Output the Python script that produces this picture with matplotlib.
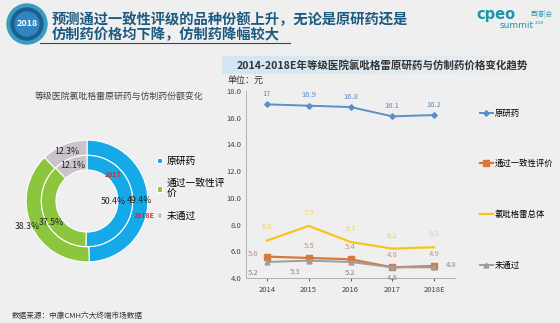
import numpy as np
import matplotlib
matplotlib.use("Agg")
import matplotlib.pyplot as plt
from matplotlib.patches import Circle
from matplotlib.colors import LinearSegmentedColormap

plt.rcParams['font.family'] = ['Noto Sans CJK SC', 'DejaVu Sans']

# donut data: inner ring 2017, outer ring 2018E
share_labels = ["原研药", "通过一致性评\n价", "未通过"]
share_2017 = [50.4, 37.5, 12.1]
share_2018 = [49.4, 38.3, 12.3]
share_colors = ["#16a9e8", "#8cc63e", "#c9c4cc"]

# price trend data
years = ["2014", "2015", "2016", "2017", "2018E"]
price_orig = [17, 16.9, 16.8, 16.1, 16.2]
price_pass = [5.6, 5.5, 5.4, 4.8, 4.9]
price_total = [6.8, 7.9, 6.7, 6.2, 6.3]
price_fail = [5.2, 5.3, 5.2, 4.8, 4.8]

bg = "#efeff0"
fig = plt.figure(figsize=(5.6, 3.23), dpi=100, facecolor=bg)

# right title band with gradient (added first so text sits on top)
grad = np.linspace(1, 0, 256).reshape(1, -1)
band = fig.add_axes([222 / 560, 1 - 74 / 323, 338 / 560, 18 / 323])
band.imshow(grad, aspect="auto", extent=[0, 1, 0, 1],
            cmap=LinearSegmentedColormap.from_list("b", [bg, "#d2e6f4"]))
band.axis("off")

# ---- header / free text ----
hdr = fig.add_axes([0, 0, 1, 1], facecolor="none")
hdr.set_xlim(0, 560)
hdr.set_ylim(323, 0)
hdr.axis("off")
hdr.add_patch(Circle((27, 24), 20, color="#3a9cc0", zorder=1))
hdr.add_patch(Circle((27, 24), 16, color="#1c5f8c", zorder=2))
hdr.add_patch(Circle((27, 24), 12, color="#2f86c2", zorder=3))
hdr.text(27, 24, "2018", color="white", fontsize=6.5, fontweight="bold",
         ha="center", va="center", zorder=4)
hdr.plot([40, 290], [43, 43], color="#444444", lw=0.8)
hdr.text(52, 20, "预测通过一致性评级的品种份额上升，无论是原研药还是",
         fontsize=10.3, fontweight="bold", color="#1d5a80", va="center")
hdr.text(52, 35, "仿制药价格均下降，仿制药降幅较大",
         fontsize=10.3, fontweight="bold", color="#1d5a80", va="center")
hdr.text(476, 15, "cpeo", fontsize=10.5, color="#1a97a8", va="center",
         fontweight="bold", family=["DejaVu Sans"])
hdr.text(531, 14, "西|普|会", fontsize=4.5, color="#1a97a8", va="center")
hdr.text(500, 26, "summit", fontsize=6.5, color="#1a97a8", va="center",
         family=["DejaVu Sans"])
hdr.text(535, 23, "2018", fontsize=3, color="#1a97a8", va="center")

hdr.text(237, 65, "2014-2018E年等级医院氯吡格雷原研药与仿制药价格变化趋势",
         fontsize=7.6, fontweight="bold", color="#333333", va="center")
hdr.text(228, 80, "单位：元", fontsize=6.5, color="#333333", va="center")
hdr.text(119, 96, "等级医院氯吡格雷原研药与仿制药份额变化",
         fontsize=6.4, color="#444444", va="center", ha="center")
hdr.text(12, 316, "数据来源：中康CMH六大终端市场数据", fontsize=5.5,
         color="#333333", va="center")

# ---- donut ----
ax1 = fig.add_axes([20 / 560, 1 - 268 / 323, 134 / 560, 134 / 323])
ax1.set_facecolor("none")
w_out, _ = ax1.pie(share_2018, radius=1.0, colors=share_colors, startangle=90,
                   counterclock=False,
                   wedgeprops=dict(width=0.25, edgecolor="white", linewidth=0.8))
w_in, _ = ax1.pie(share_2017, radius=0.75, colors=share_colors, startangle=90,
                  counterclock=False,
                  wedgeprops=dict(width=0.24, edgecolor="white", linewidth=0.8))
ax1.set_xlim(-1.1, 1.1)
ax1.set_ylim(-1.1, 1.1)
ax1.set_aspect("equal")
ax1.axis("off")

def label_ring(vals, radii, shifts):
    start = 90
    for v, r, d in zip(vals, radii, shifts):
        mid = np.deg2rad(start - v * 3.6 / 2 + d)
        start -= v * 3.6
        ax1.text(r * np.cos(mid), r * np.sin(mid), f"{v}%", fontsize=6.3,
                 color="#222222", ha="center", va="center")

label_ring(share_2018, [0.87, 1.07, 0.87], [0, 0, 0])
label_ring(share_2017, [0.44, 0.68, 0.62], [0, 10, 0])
ax1.text(0.43, 0.44, "2017", fontsize=5, color="#c0392b", fontweight="bold",
         ha="center", va="center")
ax1.text(0.94, -0.23, "2018E", fontsize=5, color="#d03030", fontweight="bold",
         ha="center", va="center")

fig.legend(w_out, share_labels, loc="upper left",
           bbox_to_anchor=(148 / 560, 1 - 147 / 323), frameon=False,
           fontsize=7, handlelength=0.5, handleheight=0.5, handletextpad=0.5,
           labelspacing=1.2)

# ---- price lines ----
ax2 = fig.add_axes([246 / 560, 1 - 278 / 323, 209 / 560, 187 / 323])
ax2.set_facecolor("none")
x = np.arange(len(years))
l1, = ax2.plot(x, price_orig, color="#5b8fc8", lw=1.4, marker="D", ms=2.8,
               label="原研药")
l2, = ax2.plot(x, price_pass, color="#d9773c", lw=1.6, marker="s", ms=4,
               label="通过一致性评价")
l3, = ax2.plot(x, price_total, color="#f7c51a", lw=1.6, label="氯吡格雷总体")
l4, = ax2.plot(x, price_fail, color="#9e9e9e", lw=1.4, marker="^", ms=3.5,
               label="未通过")

for i, v in enumerate(price_orig):
    ax2.annotate(f"{v:g}", (i, v), xytext=(0, 6), textcoords="offset points",
                 ha="center", fontsize=5.5, color="#5b8fc8")
for i, v in enumerate(price_total):
    ax2.annotate(f"{v:g}", (i, v), xytext=(0, 8), textcoords="offset points",
                 ha="center", fontsize=5.5, color="#f0cf70")
for i, v in enumerate(price_pass):
    off = (-10, 2) if i == 0 else (0, 6)
    ax2.annotate(f"{v:g}", (i, v), xytext=off, textcoords="offset points",
                 ha="center", va="center" if i == 0 else "bottom",
                 fontsize=5.5, color="#c89070")
for i, v in enumerate(price_fail):
    off = (12, 2) if i == 4 else (-10 if i < 2 else 0, -8)
    ax2.annotate(f"{v:g}", (i, v), xytext=off, textcoords="offset points",
                 ha="center", va="center", fontsize=5.5, color="#888888")

ax2.set_xlim(-0.5, 4.5)
ax2.set_ylim(4, 18)
ax2.set_yticks(np.arange(4, 18.1, 2))
ax2.set_yticklabels([f"{t:.1f}" for t in np.arange(4, 18.1, 2)])
ax2.set_xticks(x)
ax2.set_xticklabels(years)
ax2.tick_params(labelsize=5.5, colors="#444444", length=2, width=0.6)
ax2.tick_params(axis="y", length=0)
for s in ["top", "right"]:
    ax2.spines[s].set_visible(False)
for s in ["left", "bottom"]:
    ax2.spines[s].set_color("#b0b0b0")
    ax2.spines[s].set_linewidth(0.7)

fig.legend([l1, l2, l3, l4], ["原研药", "通过一致性评价", "氯吡格雷总体", "未通过"],
           loc="upper left", bbox_to_anchor=(472 / 560, 1 - 101 / 323),
           frameon=False, fontsize=6, handlelength=1.6, handletextpad=0.2,
           labelspacing=5.0)

fig.savefig("out.png", dpi=100, facecolor=bg)
